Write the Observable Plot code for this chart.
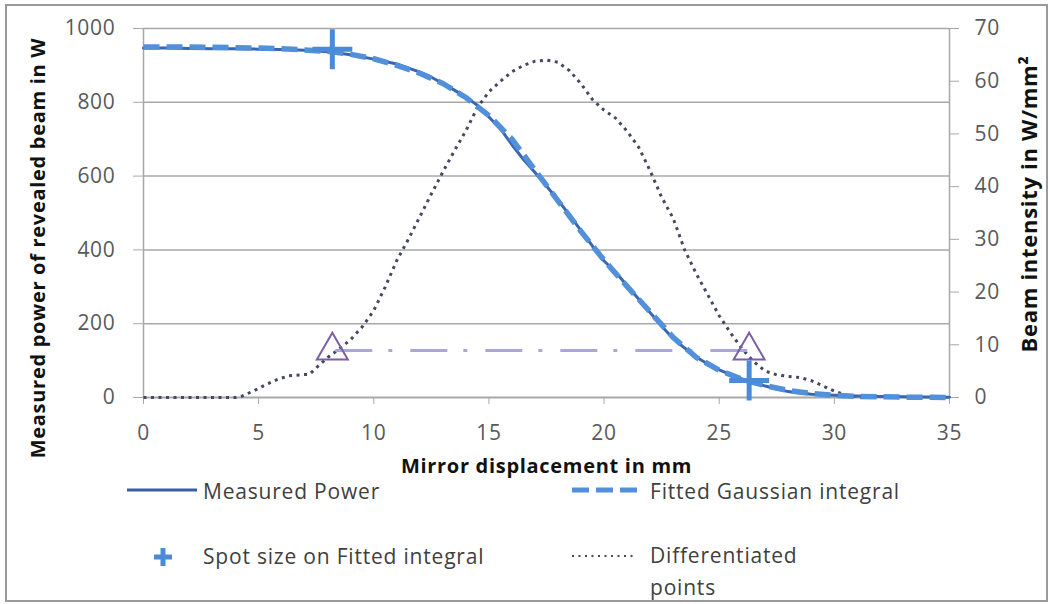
<!DOCTYPE html>
<html>
<head>
<meta charset="utf-8">
<script src="https://cdn.jsdelivr.net/npm/d3@7"></script>
<script src="https://cdn.jsdelivr.net/npm/@observablehq/plot@0.6"></script>
<style>
  html, body { margin: 0; padding: 0; background: #fff; }
  #wrap { position: relative; width: 1050px; height: 604px; overflow: hidden; font-family: 'Open Sans', sans-serif; }
  #wrap svg.plot text { letter-spacing: 0.7px; }
  #legend { position: relative; width: 1050px; height: 124px; }
  #legend .t { position: absolute; font-size: 21px; line-height: 21px; color: #404040; letter-spacing: 0.8px; white-space: nowrap; }
  #legend svg { position: absolute; left: 0; top: 0; }
  #border { position: absolute; left: 5px; top: 4px; width: 1043px; height: 598px; border: 2px solid #9a9a9a; box-sizing: border-box; pointer-events: none; }
</style>
</head>
<body>
<div id="wrap"><div id="plotbox"></div><div id="legend"></div><div id="border"></div></div>
<script>
// ---- data ----
const measX = [0,1,2,3,4,5,6,7,8,9,10,11,12,12.5,13,13.5,14,14.5,15,15.5,16,16.5,17,17.5,18,18.5,19,19.5,20,20.5,21,21.5,22,22.5,23,23.5,24,24.5,25,25.5,26,26.5,27,27.5,28,28.5,29,30,31,32,33,34,35];
const measP = [947,947,946,945,945,944,943,941,937,929,917,904,882,868,851,833,814,792,760,728,685,645,610,573,535,494,452,410,370,340,303,267,230,193,160,134,110,91,75,62,50,41,31,23,16,12,9,6,4,3,2,1.5,1];

const fitX = [0,1,2,3,4,5,6,7,8,9,10,11,12,13,14,15,16,17,18,19,20,21,22,23,24,25,26,27,28,29,30,31,32,33,34,35];
const fitP = [950,950,950,949,948,947,945,942,938,930,918,900,879,851,813,764,700,616,533,450,372,301,232,163,109,74,49,32,19,11,6,3,2,1,1,0];

const diffX = [0,1,2,3,4,4.3,4.8,5.3,5.8,6.3,6.8,7.2,7.5,8,8.5,9,9.5,10,10.5,11,11.5,12,12.5,13,13.5,14,14.5,15,15.5,16,16.5,17,17.5,18,18.5,19,19.5,20,20.5,21,21.5,22,22.5,23,23.5,24,24.5,25,25.5,26,26.5,27,27.5,28,28.5,29,29.5,30,30.5,31,31.5];
const diffI = [0,0,0,0,0,0.3,1.3,2.4,3.4,4.1,4.3,4.4,5.6,7.6,9.2,11,13.4,16.5,21,26,30,34.3,38.6,42.8,46.8,50.6,55,58,60,61.8,63,63.8,64,63.6,62,59.5,56.5,54.5,53,50.5,47.5,43,38,34,28,23.5,19.5,15.5,12.2,9.2,6.8,5,4.3,4,3.8,3.2,2.2,1.2,0.5,0.1,0];

const spotX = [8.2, 26.3];
const spotP = [944, 46];
const triX = [8.2, 26.3];
const triI = [8.9, 8.9];

const xTicks = [0,5,10,15,20,25,30,35];
const powerTicks = [0,200,400,600,800,1000];
const intensTicks = [0,10,20,30,40,50,60,70];
const powerMax = 1000, intensMax = 70;

const xTitle = "Mirror displacement in mm";
const yTitle = "Measured power of revealed beam in W";
const y2Title = "Beam intensity in W/mm²";
const legendLabels = ["Measured Power", "Fitted Gaussian integral", "Spot size on Fitted integral", "Differentiated points"];

// ---- tables ----
const k = powerMax / intensMax; // right axis mapped onto left scale
const meas = measX.map((x, i) => ({x, y: measP[i]}));
const fit = fitX.map((x, i) => ({x, y: fitP[i]}));
const diff = diffX.map((x, i) => ({x, y: diffI[i] * k}));
const spot = spotX.map((x, i) => ({x, y: spotP[i]}));
const tri = triX.map((x, i) => ({x, y: triI[i] * k}));

const plot = Plot.plot({
  width: 1050,
  height: 480,
  marginTop: 28,
  marginBottom: 83,
  marginLeft: 143,
  marginRight: 101,
  className: "plot",
  style: {fontFamily: "'Open Sans', sans-serif", fontSize: "21px", background: "white", overflow: "visible"},
  x: {domain: [0, 35]},
  y: {domain: [0, powerMax]},
  marks: [
    Plot.gridY(powerTicks.filter(d => d > 0), {stroke: "#a8a8a8", strokeOpacity: 1, strokeWidth: 1.5}),
    Plot.ruleX([0, 35], {stroke: "#a8a8a8", strokeWidth: 1.5}),
    Plot.ruleY([0], {stroke: "#a8a8a8", strokeWidth: 2}),
    Plot.axisX(xTicks, {anchor: "bottom", tickSize: 7, tickPadding: 21, stroke: "#a8a8a8", fill: "#595959", fontSize: 21, label: null, tickFormat: d => String(d)}),
    Plot.axisY(powerTicks, {anchor: "left", tickSize: 10, tickPadding: 18, stroke: "#a8a8a8", fill: "#595959", fontSize: 21, label: null, tickFormat: d => String(d)}),
    Plot.axisY(intensTicks.map(v => v * k), {anchor: "right", tickSize: 9, tickPadding: 16, stroke: "#a8a8a8", fill: "#595959", fontSize: 21, label: null, tickFormat: d => String(Math.round(d / k))}),
    Plot.text([xTitle], {frameAnchor: "bottom", dy: 75, text: d => d, fontSize: 20, fontWeight: "bold", fill: "#111", textAnchor: "middle"}),
    Plot.text([yTitle], {frameAnchor: "left", dx: -105, dy: 35, rotate: -90, text: d => d, fontSize: 20, fontWeight: "bold", fill: "#111", textAnchor: "middle"}),
    Plot.text([y2Title], {frameAnchor: "right", dx: 80, dy: -9, rotate: -90, text: d => d, fontSize: 22, fontWeight: "bold", fill: "#111", textAnchor: "middle"}),
    Plot.line(diff, {x: "x", y: "y", stroke: "#454960", strokeWidth: 3, strokeDasharray: "3,4.5", strokeLinecap: "butt"}),
    Plot.line(tri, {x: "x", y: "y", stroke: "#aba7d4", strokeWidth: 3, strokeDasharray: "37,16,4,18", strokeDashoffset: -3, strokeLinecap: "butt"}),
    Plot.dot(tri, {x: "x", y: "y", symbol: "triangle", r: 11.5, stroke: "#7b5fa6", strokeWidth: 2, fill: "none"}),
    Plot.line(meas, {x: "x", y: "y", stroke: "#3a66b0", strokeWidth: 3}),
    Plot.line(fit, {x: "x", y: "y", stroke: "#5290da", strokeWidth: 5.5, strokeDasharray: "16,7", strokeLinecap: "butt"}),
    Plot.dot(spot, {x: "x", y: "y", symbol: "plus", r: 12.9, stroke: "#4a8ad6", strokeWidth: 5})
  ]
});
document.getElementById("plotbox").appendChild(plot);

// ---- legend (below the svg) ----
const lg = document.getElementById("legend");
const top0 = 480;
const ns = "http://www.w3.org/2000/svg";
const ls = document.createElementNS(ns, "svg");
ls.setAttribute("width", 1050); ls.setAttribute("height", 124);
function ln(x1, x2, y, stroke, w, dash) {
  const l = document.createElementNS(ns, "line");
  l.setAttribute("x1", x1); l.setAttribute("x2", x2); l.setAttribute("y1", y - top0); l.setAttribute("y2", y - top0);
  l.setAttribute("stroke", stroke); l.setAttribute("stroke-width", w);
  if (dash) l.setAttribute("stroke-dasharray", dash);
  ls.appendChild(l);
}
ln(127, 197, 490, "#3a5ea4", 3);
ln(572, 637, 490, "#5290da", 5, "17,7");
ln(154, 172, 557, "#4a8ad6", 5);
const v = document.createElementNS(ns, "line");
v.setAttribute("x1", 163); v.setAttribute("x2", 163); v.setAttribute("y1", 548 - top0); v.setAttribute("y2", 566 - top0);
v.setAttribute("stroke", "#4a8ad6"); v.setAttribute("stroke-width", 5); ls.appendChild(v);
ln(572, 635, 556, "#454960", 2, "2,4.5");
lg.appendChild(ls);

function txt(s, left, topPage, extra) {
  const d = document.createElement("div");
  d.className = "t"; d.textContent = s;
  d.style.left = left + "px"; d.style.top = (topPage - top0) + "px";
  if (extra) Object.assign(d.style, extra);
  lg.appendChild(d);
}
txt(legendLabels[0], 203, 481);
txt(legendLabels[1], 650, 481);
txt(legendLabels[2], 203, 546);
txt(legendLabels[3], 650, 539, {lineHeight: "32px", whiteSpace: "normal", width: "160px"});
</script>
</body>
</html>
